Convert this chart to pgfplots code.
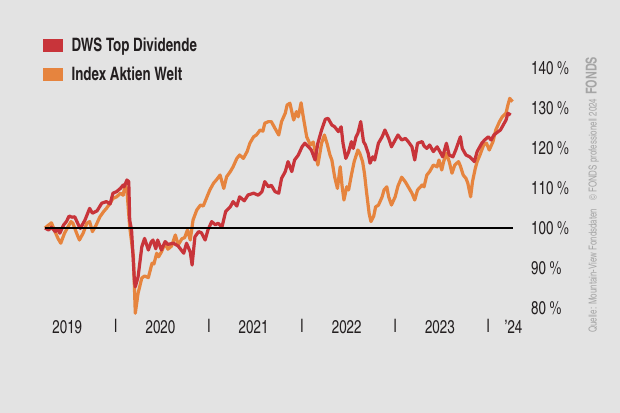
\documentclass[border=0pt]{standalone}
\usepackage{fontspec}
\setmainfont{texgyreheroscn}[Extension=.otf, UprightFont=*-regular, BoldFont=*-bold, FakeStretch=0.88]
\usepackage{pgfplots}
\pgfplotsset{compat=1.18}
\definecolor{bg}{RGB}{227,227,227}
\definecolor{dwsred}{RGB}{200,52,58}
\definecolor{idxorange}{RGB}{230,132,62}
\definecolor{txt}{RGB}{35,31,32}
\definecolor{wm}{RGB}{165,165,165}
\begin{document}
\begin{tikzpicture}
\path[use as bounding box, fill=bg] (0bp,0bp) rectangle (620bp,-413bp);
\begin{axis}[
  at={(40bp,-328bp)}, anchor=south west,
  scale only axis, width=480bp, height=280bp,
  xmin=2019.187, xmax=2024.340, ymin=75, ymax=145,
  clip=false,
  axis line style={draw=none},
  tick style={draw=none}, major tick length=0pt,
  scaled x ticks=false,
  tick label style={font=\fontsize{18.5bp}{20bp}\selectfont, text=txt},
  ytick={80,90,100,110,120,130,140},
  yticklabels={80 \%,90 \%,100 \%,110 \%,120 \%,130 \%,140 \%},
  yticklabel pos=right,
  yticklabel style={anchor=west, inner sep=0pt, xshift=11bp},
  xtick={2019.48,2020.48,2021.48,2022.48,2023.48,2024.27},
  xticklabels={2019,2020,2021,2022,2023,’24},
  xticklabel style={anchor=center, inner sep=0pt, yshift=1bp},
  extra x ticks={2020,2021,2022,2023,2024},
  extra x tick labels={I,I,I,I,I},
  extra x tick style={xticklabel style={anchor=center, inner sep=0pt, yshift=1bp}},
  legend image code/.code={\fill[#1] (0bp,-6.7bp) rectangle (19.4bp,6.7bp);},
  legend style={at={(axis description cs:0,1)}, anchor=north west,
    xshift=3bp, yshift=12bp, draw=none, fill=none, inner sep=0pt,
    font=\bfseries\fontsize{18.5bp}{20bp}\selectfont, text=txt,
    row sep=9.5bp, /tikz/every odd column/.append style={column sep=7bp}},
  legend cell align=left,
]
\addlegendimage{fill=dwsred, draw=none}
\addlegendentry{DWS Top Dividende}
\addlegendimage{fill=idxorange, draw=none}
\addlegendentry{Index Aktien Welt}

% Index Aktien Welt
\addplot[forget plot, idxorange, line width=3.2bp, line join=round] coordinates {
(2019.24,100) (2019.28,100.75) (2019.31,101.3) (2019.35,99) (2019.38,97.4) (2019.41,96.2)
(2019.45,98.7) (2019.48,100) (2019.52,101.6) (2019.54,101.2) (2019.58,98.7) (2019.61,97)
(2019.65,98.7) (2019.69,101.2) (2019.72,101.6) (2019.75,99.1) (2019.79,100.75) (2019.83,102.8)
(2019.87,104.1) (2019.90,104.9) (2019.94,106.2) (2019.97,107.4) (2020.01,107.8) (2020.05,108.7)
(2020.08,108.2) (2020.10,110.75) (2020.12,109.5) (2020.15,100.3) (2020.19,92.8) (2020.21,78.7)
(2020.24,83.7) (2020.28,87.5) (2020.31,88) (2020.35,87.6) (2020.39,91.2) (2020.41,91)
(2020.44,93.7) (2020.46,92.8) (2020.49,94) (2020.53,96.2) (2020.56,94.7) (2020.60,95.5)
(2020.64,98.25) (2020.67,95.75) (2020.71,97.3) (2020.74,97.6) (2020.77,99.5) (2020.80,97)
(2020.83,102) (2020.87,104.5) (2020.91,105.75) (2020.94,105.5) (2020.98,107.8) (2021.01,109.5)
(2021.05,111.2) (2021.08,112) (2021.12,113.25) (2021.16,109.9) (2021.19,112.8) (2021.23,114.1)
(2021.26,115.3) (2021.30,117.4) (2021.33,118.25) (2021.37,117.4) (2021.41,119.1) (2021.44,121.2)
(2021.48,122.8) (2021.51,123.25) (2021.55,124.5) (2021.58,124.2) (2021.60,126.2) (2021.64,126.6)
(2021.67,126.6) (2021.71,124.9) (2021.75,123.25) (2021.78,126.6) (2021.82,128.7) (2021.84,130.75)
(2021.87,131.2) (2021.91,127) (2021.94,129.1) (2021.96,127.8) (2021.99,131.3) (2022.01,128.25)
(2022.05,122.8) (2022.09,120.75) (2022.12,121.5) (2022.15,118.25) (2022.17,115.75) (2022.21,121.2)
(2022.24,123.25) (2022.27,121) (2022.30,118.25) (2022.32,117) (2022.35,112.8) (2022.38,109.9)
(2022.41,115.3) (2022.43,110.5) (2022.45,107) (2022.48,110.3) (2022.50,109.5) (2022.53,113.25)
(2022.56,116.6) (2022.60,119.5) (2022.62,118.7) (2022.65,116.6) (2022.67,113.7) (2022.69,109.5)
(2022.72,103.7) (2022.74,101.6) (2022.77,103) (2022.79,105.3) (2022.82,105.7) (2022.86,107.8)
(2022.88,109.5) (2022.91,110.3) (2022.93,107.8) (2022.96,105.75) (2023.00,107.8) (2023.03,110.5)
(2023.07,112.7) (2023.11,111.5) (2023.14,110.3) (2023.18,108.7) (2023.21,107) (2023.24,109.5)
(2023.29,110.75) (2023.31,110.3) (2023.34,113.25) (2023.37,114.1) (2023.41,115.75) (2023.45,115.3)
(2023.47,117) (2023.50,114.5) (2023.52,116.6) (2023.55,118.7) (2023.58,116.6) (2023.61,113.7)
(2023.64,115.75) (2023.68,116.6) (2023.70,115.5) (2023.73,113.25) (2023.76,112.4) (2023.78,111.2)
(2023.81,107.8) (2023.83,111.6) (2023.86,114.9) (2023.88,116.6) (2023.91,118.25) (2023.95,120.75)
(2023.98,121.2) (2024.01,119.5) (2024.05,121.6) (2024.08,124.5) (2024.12,126.6) (2024.15,127.8)
(2024.19,128.7) (2024.21,130.75) (2024.23,132.4) (2024.26,131.6)
};

% DWS Top Dividende
\addplot[forget plot, dwsred, line width=3.2bp, line join=round] coordinates {
(2019.24,100) (2019.28,99.5) (2019.31,100.2) (2019.35,99.1) (2019.38,99.6) (2019.40,98.7)
(2019.44,100.75) (2019.47,101.6) (2019.50,103) (2019.53,102.7) (2019.56,102.8) (2019.60,100.75)
(2019.62,99.9) (2019.67,102) (2019.72,104.9) (2019.75,103.7) (2019.80,104.3) (2019.85,106.2)
(2019.90,106.6) (2019.94,106) (2019.97,108.7) (2020.01,109.1) (2020.05,109.9) (2020.08,110.75)
(2020.09,110.3) (2020.12,112) (2020.14,111.6) (2020.15,102) (2020.17,99.5) (2020.20,87)
(2020.21,85.3) (2020.24,87.8) (2020.28,95.3) (2020.31,97.4) (2020.35,94.5) (2020.38,96.5)
(2020.40,97) (2020.43,94.8) (2020.45,97) (2020.49,94.5) (2020.53,96.6) (2020.56,95.9)
(2020.62,96.2) (2020.67,95.5) (2020.73,93.7) (2020.76,96.2) (2020.80,94) (2020.82,90.75)
(2020.85,97.8) (2020.89,99.1) (2020.92,98.8) (2020.96,97) (2020.99,99.5) (2021.03,101.6)
(2021.07,100.8) (2021.10,101.2) (2021.14,100.2) (2021.18,104.1) (2021.23,105.3) (2021.26,106.6)
(2021.30,105.5) (2021.33,107.8) (2021.38,106.8) (2021.42,108.25) (2021.48,108.7) (2021.53,108.2)
(2021.57,109.1) (2021.60,111.6) (2021.64,110.3) (2021.67,110.7) (2021.71,109.1) (2021.75,108.7)
(2021.78,112.4) (2021.82,114.1) (2021.85,116.6) (2021.89,114.1) (2021.92,117) (2021.96,118.25)
(2022.00,120.3) (2022.03,121.2) (2022.07,120.3) (2022.10,119.5) (2022.14,117) (2022.17,121.2)
(2022.21,124.5) (2022.25,127.2) (2022.28,127.4) (2022.32,125.75) (2022.35,125.3) (2022.39,124.1)
(2022.42,125.3) (2022.44,121.2) (2022.47,117.4) (2022.50,119) (2022.53,121.6) (2022.55,119.9)
(2022.58,122.8) (2022.60,123.7) (2022.63,126.6) (2022.66,121.6) (2022.68,120.8) (2022.71,118.7)
(2022.73,116.2) (2022.76,117.8) (2022.78,117) (2022.82,121.2) (2022.86,122.8) (2022.89,124.5)
(2022.93,122.4) (2022.96,120.3) (2023.00,122) (2023.03,123.25) (2023.07,122) (2023.11,122.4)
(2023.14,121.6) (2023.18,120.3) (2023.21,117) (2023.24,121.2) (2023.29,121.6) (2023.31,120.5)
(2023.34,119.9) (2023.37,120.75) (2023.41,119.1) (2023.45,120.3) (2023.48,119.1) (2023.51,117.8)
(2023.55,121.2) (2023.58,118.25) (2023.62,117.8) (2023.65,119.5) (2023.70,122.8) (2023.72,119.9)
(2023.76,118.25) (2023.80,117.8) (2023.85,116.6) (2023.88,119.1) (2023.93,121.2) (2023.96,122)
(2024.00,122.8) (2024.03,122) (2024.06,123.25) (2024.10,124) (2024.13,124.5) (2024.16,125.75)
(2024.19,127) (2024.21,128.7) (2024.24,128.25)
};

% 100 % reference line
\addplot[forget plot, black, line width=1.4bp] coordinates {(2019.24,100) (2024.27,100)};
\end{axis}
\node[rotate=90, anchor=south west, inner sep=0pt, text=wm, font=\fontsize{11bp}{12bp}\selectfont]
  at (599bp,-333bp) {Quelle: Mountain-View Fondsdaten\hspace{8bp}© FONDS professionell 2024\hspace{4bp}{\bfseries\fontsize{15bp}{15bp}\selectfont FONDS}};
\end{tikzpicture}
\end{document}
